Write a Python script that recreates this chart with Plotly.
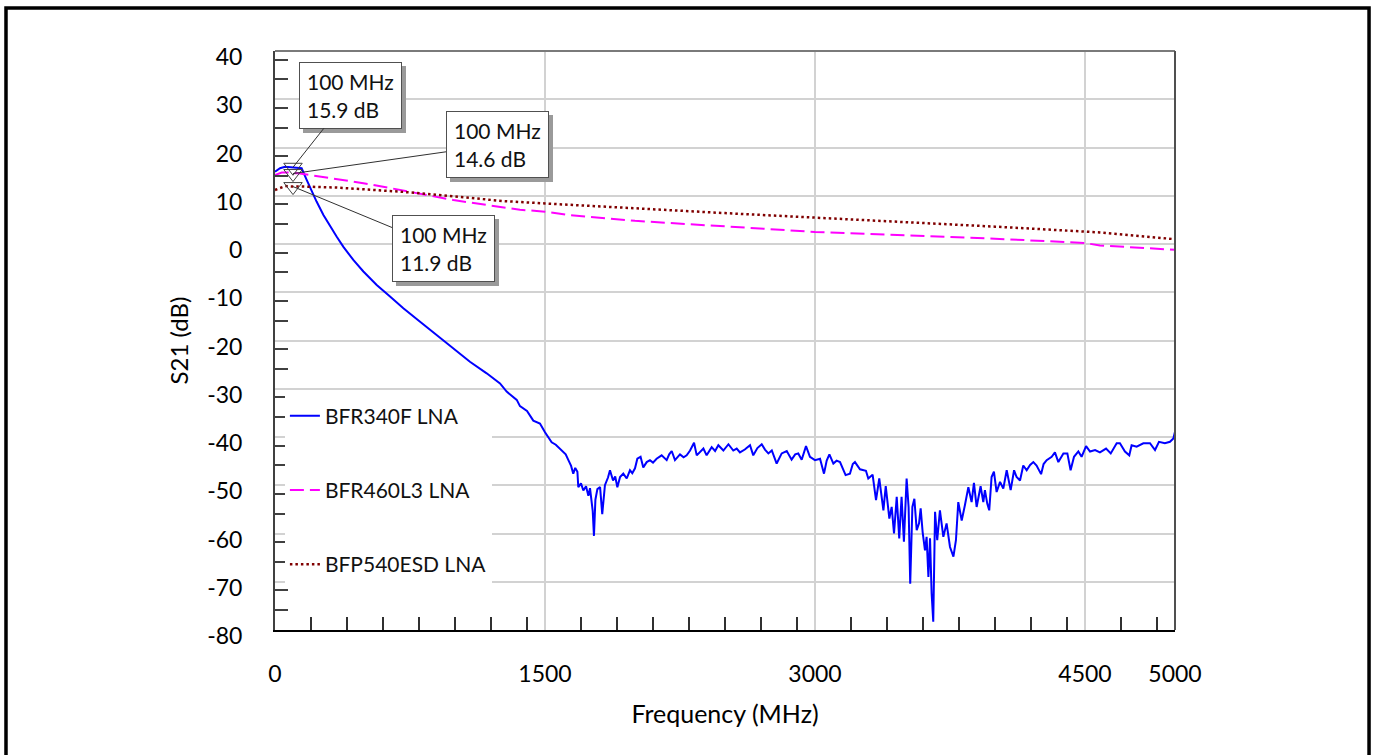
import plotly.graph_objects as go

# ---- measured S21 traces (frequency in MHz, gain in dB) ----
bfr340f_freq = [
    0, 28, 56, 100, 148, 176, 204, 231, 269, 306, 343, 380, 435, 491, 565, 639, 713, 806, 898, 991,
    1083, 1176, 1250, 1287, 1343, 1361, 1400, 1435, 1472, 1500, 1520, 1537, 1560, 1593, 1615, 1630,
    1645, 1657, 1668, 1680, 1685, 1700, 1713, 1728, 1741, 1750, 1765, 1772, 1780, 1791, 1806, 1818,
    1833, 1850, 1861, 1878, 1890, 1902, 1917, 1935, 1954, 1972, 1985, 2000, 2013, 2031, 2046, 2065,
    2083, 2100, 2120, 2148, 2176, 2190, 2204, 2222, 2250, 2270, 2287, 2306, 2328, 2343, 2361, 2380,
    2398, 2426, 2445, 2463, 2491, 2519, 2546, 2565, 2583, 2610, 2639, 2657, 2680, 2704, 2722, 2741,
    2760, 2787, 2815, 2843, 2870, 2890, 2907, 2926, 2950, 2972, 3000, 3028, 3050, 3065, 3080, 3102,
    3120, 3139, 3170, 3194, 3210, 3222, 3250, 3283, 3296, 3320, 3339, 3357, 3380, 3393, 3413, 3426,
    3439, 3454, 3468, 3481, 3494, 3509, 3520, 3529, 3541, 3552, 3565, 3578, 3587, 3598, 3611, 3620,
    3630, 3639, 3648, 3657, 3667, 3679, 3694, 3713, 3731, 3750, 3769, 3783, 3796, 3815, 3833, 3852,
    3870, 3883, 3898, 3920, 3935, 3944, 3957, 3968, 3981, 3994, 4009, 4028, 4046, 4065, 4087, 4106,
    4120, 4139, 4157, 4176, 4195, 4213, 4231, 4256, 4270, 4287, 4315, 4333, 4352, 4380, 4402, 4420,
    4439, 4463, 4481, 4506, 4528, 4556, 4583, 4617, 4643, 4676, 4694, 4722, 4746, 4759, 4787, 4824,
    4861, 4889, 4911, 4944, 4972, 4991, 5000,
]
bfr340f_s21 = [
    15.0, 15.7, 16.0, 15.9, 15.7, 13.3, 10.9, 8.8, 6.0, 3.6, 1.5, -0.6, -3.3, -5.7, -8.5, -10.9, -13.3, -16.1, -18.9, -21.6,
    -24.4, -26.8, -28.9, -30.6, -32.3, -33.6, -34.6, -36.6, -37.2, -39.0, -40.0, -41.1, -41.6, -42.8, -43.6, -44.8,
    -46.0, -47.6, -46.4, -47.2, -50.4, -49.6, -51.1, -50.2, -52.2, -50.6, -55.3, -60.5, -53.0, -50.8, -50.4, -56.0,
    -50.0, -48.4, -46.9, -49.0, -48.2, -50.4, -48.3, -47.6, -48.6, -46.9, -47.5, -46.5, -44.5, -44.1, -46.3, -45.2,
    -44.8, -45.3, -44.5, -43.8, -44.8, -43.6, -42.9, -44.8, -43.6, -44.2, -43.8, -42.8, -41.2, -43.8, -43.1, -42.4,
    -43.8, -42.1, -42.9, -41.7, -42.8, -41.5, -42.8, -42.4, -43.2, -42.6, -41.7, -43.8, -42.3, -41.5, -42.6, -43.4,
    -42.8, -45.5, -43.4, -42.9, -44.7, -43.6, -43.4, -44.7, -41.9, -44.1, -44.8, -44.5, -47.6, -44.9, -43.6, -45.5,
    -44.9, -45.2, -47.9, -47.6, -45.6, -45.2, -46.7, -47.0, -48.6, -47.8, -53.1, -48.6, -55.2, -50.2, -56.9, -54.5,
    -60.0, -52.4, -61.0, -52.4, -61.7, -48.6, -54.5, -70.4, -54.5, -52.8, -59.3, -57.9, -54.8, -59.7, -63.5, -60.7,
    -69.0, -61.0, -72.5, -78.3, -55.5, -61.4, -55.2, -60.7, -57.9, -62.8, -64.8, -61.4, -53.5, -57.3, -54.1, -50.4,
    -53.5, -49.5, -54.5, -50.2, -53.5, -51.0, -53.8, -55.2, -48.3, -47.2, -51.4, -49.3, -50.7, -46.9, -51.0, -46.9,
    -48.3, -49.0, -45.9, -46.9, -45.8, -45.2, -45.9, -47.7, -45.6, -44.8, -44.1, -43.2, -45.2, -43.4, -43.4, -46.9,
    -44.1, -43.0, -44.1, -41.9, -43.0, -42.7, -43.2, -42.4, -43.4, -41.3, -41.3, -43.0, -43.8, -41.7, -42.0, -41.3,
    -41.3, -42.7, -41.0, -41.3, -41.0, -40.3, -38.9,
]

bfr460l3_freq = [0, 37, 74, 100, 120, 231, 343, 491, 639, 806, 991, 1176, 1361, 1500, 1639, 2000, 2500,
                 3000, 3500, 4000, 4500, 4583, 5000]
bfr460l3_s21 = [14.3, 14.8, 14.8, 14.6, 14.7, 14.1, 13.4, 12.6, 11.6, 10.4, 9.1, 8.1, 7.1, 6.7, 6.0, 4.8, 3.6,
                2.5, 1.8, 1.1, 0.2, -0.3, -1.2]

bfp540esd_freq = [0, 56, 100, 157, 343, 528, 713, 898, 1083, 1269, 1500, 1639, 2000, 2500, 3000, 3500,
                  4000, 4583, 5000]
bfp540esd_s21 = [11.2, 12.0, 11.9, 11.9, 11.7, 11.3, 10.8, 10.2, 9.5, 8.9, 8.4, 8.1, 7.4, 6.4, 5.5, 4.5,
                 3.6, 2.4, 1.0]

# ---- marker readouts ----
marker_freq = [100, 100, 100]
marker_s21 = [15.9, 14.6, 11.9]
marker_label_offsets = [(57, -72), (204, -29), (150, 62)]

x_ticks = [0, 1500, 3000, 4500, 5000]
x_minor = [b + s for b in (0, 1500, 3000, 4500) for s in range(200, 1500, 200) if b + s < 5000]
y_ticks = list(range(-80, 41, 10))
y_ticktext = [str(v) for v in y_ticks]          # plain hyphen for negatives
y_minor = [v - d for v in range(40, -80, -10) for d in (1.8, 5.9)]

FONT = "Lato, 'Open Sans', sans-serif"
BOX_W, BOX_H, BOX_PAD = 87, 51, 7

fig = go.Figure()

fig.add_trace(go.Scatter(
    x=bfr340f_freq, y=bfr340f_s21, mode="lines", name="BFR340F LNA",
    line=dict(color="#0000ff", width=2), legendgroup="a"))
fig.add_trace(go.Scatter(
    x=bfr460l3_freq, y=bfr460l3_s21, mode="lines", name="BFR460L3 LNA",
    line=dict(color="#ff00ff", width=2, dash="14px,6px"), legendgroup="b"))
fig.add_trace(go.Scatter(
    x=bfp540esd_freq, y=bfp540esd_s21, mode="lines", name="BFP540ESD LNA",
    line=dict(color="#800000", width=2.5, dash="2.5px,3px"), legendgroup="c"))

fig.add_trace(go.Scatter(
    x=marker_freq, y=marker_s21, mode="markers", showlegend=False, hoverinfo="skip",
    marker=dict(symbol="triangle-down-open", size=16, color="#404040", line=dict(width=1))))

# readout boxes: drop shadow first, then the bordered box with its leader line
for f, v, (ax, ay) in zip(marker_freq, marker_s21, marker_label_offsets):
    fig.add_annotation(
        x=f, y=v, ax=ax, ay=ay, axref="pixel", ayref="pixel", text=" ",
        showarrow=True, arrowcolor="rgba(0,0,0,0)", arrowwidth=0.1, arrowhead=0,
        xshift=4, yshift=-4, width=BOX_W, height=BOX_H,
        bgcolor="#9a9a9a", bordercolor="#9a9a9a", borderwidth=1, borderpad=BOX_PAD)
    fig.add_annotation(
        x=f, y=v, ax=ax, ay=ay, axref="pixel", ayref="pixel",
        text=f"{f} MHz<br>{v} dB", align="left", valign="middle",
        showarrow=True, arrowcolor="#303030", arrowwidth=1, arrowhead=0,
        width=BOX_W, height=BOX_H,
        font=dict(family=FONT, size=21, color="#111111"),
        bgcolor="white", bordercolor="#505050", borderwidth=1, borderpad=BOX_PAD)

# plot-area top/right edges and the outer frame
fig.add_shape(type="line", xref="paper", yref="paper", x0=0, x1=1, y0=1, y1=1,
              line=dict(color="#7a7a7a", width=2))
fig.add_shape(type="line", xref="paper", yref="paper", x0=1, x1=1, y0=0, y1=1,
              line=dict(color="#505050", width=2))
fig.add_shape(type="rect", xref="paper", yref="paper",
              x0=-0.2989, x1=1.2156, y0=1.0743, y1=-0.23,
              line=dict(color="black", width=3.5), layer="above")

fig.update_layout(
    width=1375, height=755,
    margin=dict(l=275, r=200, t=51, b=125),
    paper_bgcolor="white", plot_bgcolor="white",
    font=dict(family=FONT, size=20, color="black"),
    showlegend=True,
    legend=dict(x=0.011, y=0.405, xanchor="left", yanchor="top",
                bgcolor="white", borderwidth=0, tracegroupgap=44,
                font=dict(family=FONT, size=21, color="#111111")),
    xaxis=dict(
        range=[0, 5000], tickmode="array", tickvals=x_ticks, ticks="",
        ticklabelstandoff=22, tickfont=dict(size=23),
        showgrid=True, gridcolor="#d2d2d2", gridwidth=1.5, zeroline=False,
        showline=True, linecolor="black", linewidth=2,
        minor=dict(tickmode="array", tickvals=x_minor, ticks="inside", ticklen=13,
                   tickwidth=1.5, tickcolor="#303030", showgrid=False),
        title=dict(text="Frequency (MHz)", standoff=20, font=dict(size=25)),
    ),
    yaxis=dict(
        range=[-80, 40], tickmode="array", tickvals=y_ticks, ticktext=y_ticktext, ticks="",
        ticklabelstandoff=26, ticklabelshift=6, tickfont=dict(size=23),
        showgrid=True, gridcolor="#d2d2d2", gridwidth=1.5, zeroline=False,
        showline=True, linecolor="#404040", linewidth=2,
        minor=dict(tickmode="array", tickvals=y_minor, ticks="inside", ticklen=13,
                   tickwidth=1.5, tickcolor="#404040", showgrid=False),
        title=dict(text="S21 (dB)", standoff=12, font=dict(size=24)),
    ),
)

fig.write_html("out.html")
